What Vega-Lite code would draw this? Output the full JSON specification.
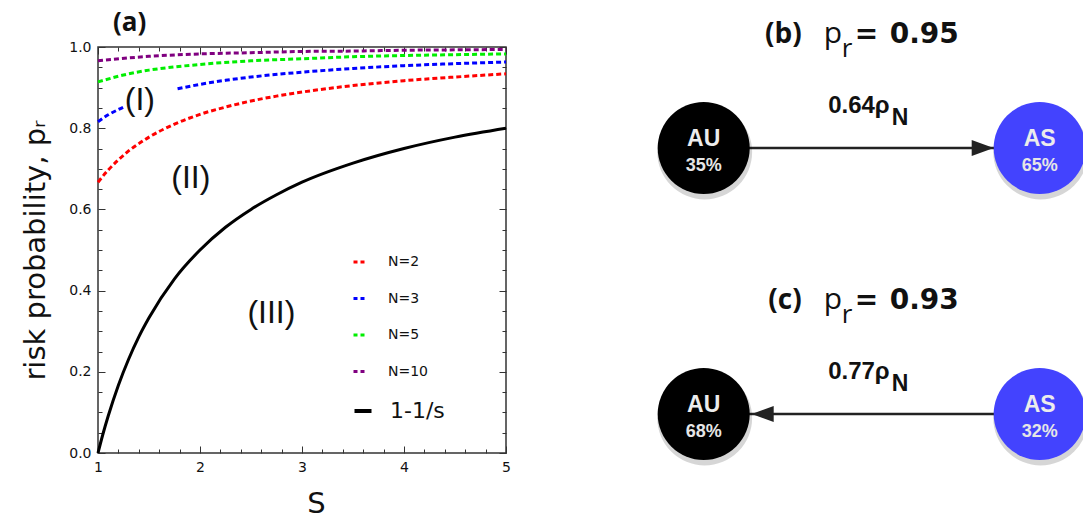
{
  "$schema": "https://vega.github.io/schema/vega-lite/v6.json",
  "padding": {"left": 20, "top": 9, "right": 0, "bottom": 0},
  "background": "white",
  "spacing": 0,
  "config": {
    "view": {"stroke": "#333", "strokeWidth": 1.5},
    "axis": {"domain": false, "grid": false, "tickColor": "#333", "tickWidth": 1, "labelFont": "DejaVu Sans", "labelFontSize": 14, "labelColor": "#111", "titleFont": "DejaVu Sans", "titleFontSize": 29, "titleFontWeight": "normal", "titleColor": "#111", "labelOverlap": false, "labelBound": false, "labelFlush": false}
  },
  "hconcat": [
    {
      "width": 408,
      "height": 406,
      "title": {"text": "(a)", "anchor": "start", "frame": "group", "font": "Open Sans", "fontSize": 26, "fontWeight": "bold", "color": "#111", "dx": 15, "offset": 4},
      "resolve": {"scale": {"color": "independent"}, "legend": {"color": "independent"}, "axis": {"x": "independent", "y": "independent"}},
      "layer": [
        {
          "data": {"values": [
            {"series": "N=2", "seg": "a", "s": 1, "p": 0.667},
            {"series": "N=2", "seg": "a", "s": 1.1, "p": 0.697},
            {"series": "N=2", "seg": "a", "s": 1.2, "p": 0.722},
            {"series": "N=2", "seg": "a", "s": 1.3, "p": 0.744},
            {"series": "N=2", "seg": "a", "s": 1.4, "p": 0.762},
            {"series": "N=2", "seg": "a", "s": 1.5, "p": 0.778},
            {"series": "N=2", "seg": "a", "s": 1.75, "p": 0.81},
            {"series": "N=2", "seg": "a", "s": 2, "p": 0.834},
            {"series": "N=2", "seg": "a", "s": 2.25, "p": 0.852},
            {"series": "N=2", "seg": "a", "s": 2.5, "p": 0.867},
            {"series": "N=2", "seg": "a", "s": 2.75, "p": 0.879},
            {"series": "N=2", "seg": "a", "s": 3, "p": 0.889},
            {"series": "N=2", "seg": "a", "s": 3.5, "p": 0.905},
            {"series": "N=2", "seg": "a", "s": 4, "p": 0.917},
            {"series": "N=2", "seg": "a", "s": 4.5, "p": 0.926},
            {"series": "N=2", "seg": "a", "s": 5, "p": 0.934},
            {"series": "N=3", "seg": "a", "s": 1, "p": 0.816},
            {"series": "N=3", "seg": "a", "s": 1.1, "p": 0.833},
            {"series": "N=3", "seg": "a", "s": 1.2, "p": 0.846},
            {"series": "N=3", "seg": "a", "s": 1.25, "p": 0.852},
            {"series": "N=3", "seg": "b", "s": 1.78, "p": 0.897},
            {"series": "N=3", "seg": "b", "s": 2, "p": 0.908},
            {"series": "N=3", "seg": "b", "s": 2.25, "p": 0.918},
            {"series": "N=3", "seg": "b", "s": 2.5, "p": 0.926},
            {"series": "N=3", "seg": "b", "s": 3, "p": 0.938},
            {"series": "N=3", "seg": "b", "s": 3.5, "p": 0.947},
            {"series": "N=3", "seg": "b", "s": 4, "p": 0.954},
            {"series": "N=3", "seg": "b", "s": 4.5, "p": 0.959},
            {"series": "N=3", "seg": "b", "s": 5, "p": 0.963},
            {"series": "N=5", "seg": "a", "s": 1, "p": 0.914},
            {"series": "N=5", "seg": "a", "s": 1.25, "p": 0.931},
            {"series": "N=5", "seg": "a", "s": 1.5, "p": 0.943},
            {"series": "N=5", "seg": "a", "s": 1.75, "p": 0.951},
            {"series": "N=5", "seg": "a", "s": 2, "p": 0.957},
            {"series": "N=5", "seg": "a", "s": 2.5, "p": 0.966},
            {"series": "N=5", "seg": "a", "s": 3, "p": 0.971},
            {"series": "N=5", "seg": "a", "s": 3.5, "p": 0.976},
            {"series": "N=5", "seg": "a", "s": 4, "p": 0.979},
            {"series": "N=5", "seg": "a", "s": 4.5, "p": 0.981},
            {"series": "N=5", "seg": "a", "s": 5, "p": 0.983},
            {"series": "N=10", "seg": "a", "s": 1, "p": 0.966},
            {"series": "N=10", "seg": "a", "s": 1.5, "p": 0.977},
            {"series": "N=10", "seg": "a", "s": 2, "p": 0.983},
            {"series": "N=10", "seg": "a", "s": 2.5, "p": 0.986},
            {"series": "N=10", "seg": "a", "s": 3, "p": 0.989},
            {"series": "N=10", "seg": "a", "s": 3.5, "p": 0.99},
            {"series": "N=10", "seg": "a", "s": 4, "p": 0.992},
            {"series": "N=10", "seg": "a", "s": 4.5, "p": 0.993},
            {"series": "N=10", "seg": "a", "s": 5, "p": 0.994}
          ]},
          "mark": {"type": "line", "strokeWidth": 3, "strokeDash": [5, 3], "interpolate": "monotone"},
          "encoding": {
            "x": {"field": "s", "type": "quantitative", "scale": {"domain": [1, 5], "nice": false, "zero": false},
              "axis": {"orient": "bottom", "title": "S", "titlePadding": 12, "titleX": 218, "values": [1, 1.2, 1.4, 1.6, 1.8, 2, 2.2, 2.4, 2.6, 2.8, 3, 3.2, 3.4, 3.6, 3.8, 4, 4.2, 4.4, 4.6, 4.8, 5],
                "labelExpr": "datum.value % 1 === 0 ? format(datum.value, 'd') : ''", "labelPadding": 14,
                "tickSize": {"condition": {"test": "datum.value % 1 === 0", "value": -7}, "value": -4}}},
            "y": {"field": "p", "type": "quantitative", "scale": {"domain": [0, 1], "nice": false},
              "axis": {"orient": "left", "title": "risk probability,  pᵣ", "titlePadding": 18, "values": [0, 0.05, 0.1, 0.15, 0.2, 0.25, 0.3, 0.35, 0.4, 0.45, 0.5, 0.55, 0.6, 0.65, 0.7, 0.75, 0.8, 0.85, 0.9, 0.95, 1],
                "labelExpr": "abs(datum.value * 5 - round(datum.value * 5)) < 0.001 ? format(datum.value, '.1f') : ''", "labelPadding": 14,
                "tickSize": {"condition": {"test": "abs(datum.value * 5 - round(datum.value * 5)) < 0.001", "value": -7}, "value": -4}}},
            "color": {"field": "series", "type": "nominal", "scale": {"domain": ["N=2", "N=3", "N=5", "N=10"], "range": ["#ff0000", "#0000ff", "#00ee00", "#800080"]},
              "legend": {"title": null, "orient": "none", "legendX": 254, "legendY": 207.5, "padding": 0, "symbolType": "stroke", "symbolStrokeWidth": 3, "symbolDash": [4, 3], "symbolSize": 144, "labelFont": "DejaVu Sans", "labelFontSize": 14, "labelColor": "#111", "rowPadding": 21.5, "labelOffset": 21}},
            "detail": {"field": "seg", "type": "nominal"}
          }
        },
        {
          "data": {"values": [
            {"series": "1-1/s", "s": 1, "p": 0},
            {"series": "1-1/s", "s": 1.05, "p": 0.048},
            {"series": "1-1/s", "s": 1.1, "p": 0.091},
            {"series": "1-1/s", "s": 1.2, "p": 0.167},
            {"series": "1-1/s", "s": 1.3, "p": 0.231},
            {"series": "1-1/s", "s": 1.4, "p": 0.286},
            {"series": "1-1/s", "s": 1.5, "p": 0.333},
            {"series": "1-1/s", "s": 1.75, "p": 0.429},
            {"series": "1-1/s", "s": 2, "p": 0.5},
            {"series": "1-1/s", "s": 2.25, "p": 0.556},
            {"series": "1-1/s", "s": 2.5, "p": 0.6},
            {"series": "1-1/s", "s": 2.75, "p": 0.636},
            {"series": "1-1/s", "s": 3, "p": 0.667},
            {"series": "1-1/s", "s": 3.5, "p": 0.714},
            {"series": "1-1/s", "s": 4, "p": 0.75},
            {"series": "1-1/s", "s": 4.5, "p": 0.778},
            {"series": "1-1/s", "s": 5, "p": 0.8}
          ]},
          "mark": {"type": "line", "strokeWidth": 3, "interpolate": "monotone"},
          "encoding": {
            "x": {"field": "s", "type": "quantitative", "scale": {"domain": [1, 5], "nice": false, "zero": false},
              "axis": {"orient": "top", "title": null, "labels": false, "values": [1, 1.2, 1.4, 1.6, 1.8, 2, 2.2, 2.4, 2.6, 2.8, 3, 3.2, 3.4, 3.6, 3.8, 4, 4.2, 4.4, 4.6, 4.8, 5],
                "tickSize": {"condition": {"test": "datum.value % 1 === 0", "value": -7}, "value": -4}}},
            "y": {"field": "p", "type": "quantitative", "scale": {"domain": [0, 1], "nice": false},
              "axis": {"orient": "right", "title": null, "labels": false, "values": [0, 0.05, 0.1, 0.15, 0.2, 0.25, 0.3, 0.35, 0.4, 0.45, 0.5, 0.55, 0.6, 0.65, 0.7, 0.75, 0.8, 0.85, 0.9, 0.95, 1],
                "tickSize": {"condition": {"test": "abs(datum.value * 5 - round(datum.value * 5)) < 0.001", "value": -7}, "value": -4}}},
            "color": {"field": "series", "type": "nominal", "scale": {"domain": ["1-1/s"], "range": ["#000000"]},
              "legend": {"title": null, "orient": "none", "legendX": 254, "legendY": 353, "padding": 0, "symbolType": "stroke", "symbolStrokeWidth": 4, "symbolSize": 289, "labelFont": "DejaVu Sans", "labelFontSize": 22, "labelColor": "#111", "labelOffset": 16}}
          }
        },
        {
          "data": {"values": [
            {"label": "(I)", "s": 1.41, "p": 0.869},
            {"label": "(II)", "s": 1.91, "p": 0.677},
            {"label": "(III)", "s": 2.7, "p": 0.345}
          ]},
          "mark": {"type": "text", "font": "Liberation Sans", "fontSize": 32, "color": "#111", "baseline": "middle", "align": "center"},
          "encoding": {
            "x": {"field": "s", "type": "quantitative", "axis": null},
            "y": {"field": "p", "type": "quantitative", "axis": null},
            "text": {"field": "label"}
          }
        }
      ]
    },
    {
      "width": 577,
      "height": 500,
      "view": {"stroke": null},
      "layer": [
        {
          "data": {"values": [
            {"panel": "b", "node": "AU", "share": "35%"},
            {"panel": "b", "node": "AS", "share": "65%"},
            {"panel": "c", "node": "AU", "share": "68%"},
            {"panel": "c", "node": "AS", "share": "32%"}
          ]},
          "layer": [
            {
              "mark": {"type": "line", "color": "#222", "strokeWidth": 2.6},
              "encoding": {"detail": {"field": "panel", "type": "nominal"}}
            },
            {
              "mark": {"type": "circle", "size": 9000, "color": "#000", "opacity": 0.16, "yOffset": 4, "xOffset": 1}
            },
            {
              "mark": {"type": "circle", "size": 8464, "opacity": 1},
              "encoding": {"color": {"field": "node", "type": "nominal", "scale": {"domain": ["AU", "AS"], "range": ["#000000", "#4343fe"]}, "legend": null}}
            },
            {
              "mark": {"type": "text", "font": "Liberation Sans", "fontWeight": "bold", "fontSize": 23, "color": "#ececec", "baseline": "alphabetic", "dy": -2},
              "encoding": {"text": {"field": "node"}}
            },
            {
              "mark": {"type": "text", "font": "Liberation Sans", "fontWeight": "bold", "fontSize": 18, "color": "#e6e6e6", "baseline": "alphabetic", "dy": 23},
              "encoding": {"text": {"field": "share"}}
            }
          ],
          "encoding": {
            "x": {"field": "node", "type": "nominal", "scale": {"type": "point", "domain": ["AU", "mid", "AS"], "range": [190.7, 526.7], "padding": 0}, "axis": null},
            "y": {"field": "panel", "type": "nominal", "scale": {"type": "point", "domain": ["b", "c"], "range": [101, 367], "padding": 0}, "axis": null}
          }
        },
        {
          "data": {"values": [
            {"panel": "b", "from": "AU", "to": "AS", "tag": "(b)", "pr": "0.95", "rate": "0.64ρ"},
            {"panel": "c", "from": "AS", "to": "AU", "tag": "(c)", "pr": "0.93", "rate": "0.77ρ"}
          ]},
          "layer": [
            {
              "transform": [{"filter": "datum.panel === 'b'"}],
              "mark": {"type": "point", "shape": "M-1,-0.73L1,0L-1,0.73Z", "size": 484, "filled": true, "opacity": 1, "color": "#222", "xOffset": -57},
              "encoding": {"x": {"field": "to", "type": "nominal"}}
            },
            {
              "transform": [{"filter": "datum.panel === 'c'"}],
              "mark": {"type": "point", "shape": "M1,-0.73L-1,0L1,0.73Z", "size": 484, "filled": true, "opacity": 1, "color": "#222", "xOffset": 59},
              "encoding": {"x": {"field": "to", "type": "nominal"}}
            },
            {
              "mark": {"type": "text", "font": "Liberation Sans", "fontWeight": "bold", "fontSize": 24, "color": "#111", "align": "right", "baseline": "alphabetic", "dx": 18, "dy": -35},
              "encoding": {"x": {"datum": "mid", "type": "nominal"}, "text": {"field": "rate"}}
            },
            {
              "mark": {"type": "text", "font": "Liberation Sans", "fontWeight": "bold", "fontSize": 23, "color": "#111", "align": "left", "baseline": "alphabetic", "dx": 20, "dy": -23, "text": "N"},
              "encoding": {"x": {"datum": "mid", "type": "nominal"}}
            },
            {
              "mark": {"type": "text", "font": "Open Sans", "fontWeight": "bold", "fontSize": 28, "color": "#111", "align": "right", "baseline": "alphabetic", "dx": -70, "dy": -105},
              "encoding": {"x": {"datum": "mid", "type": "nominal"}, "text": {"field": "tag"}}
            },
            {
              "mark": {"type": "text", "font": "Open Sans", "fontSize": 30, "color": "#111", "align": "left", "baseline": "alphabetic", "dx": -48, "dy": -105, "text": "p"},
              "encoding": {"x": {"datum": "mid", "type": "nominal"}}
            },
            {
              "mark": {"type": "text", "font": "Open Sans", "fontSize": 26, "color": "#111", "align": "left", "baseline": "alphabetic", "dx": -30, "dy": -91, "text": "r"},
              "encoding": {"x": {"datum": "mid", "type": "nominal"}}
            },
            {
              "mark": {"type": "text", "font": "DejaVu Sans", "fontWeight": "bold", "fontSize": 28, "color": "#111", "align": "left", "baseline": "alphabetic", "dx": -17, "dy": -105, "text": "="},
              "encoding": {"x": {"datum": "mid", "type": "nominal"}}
            },
            {
              "mark": {"type": "text", "font": "DejaVu Sans", "fontWeight": "bold", "fontSize": 28, "color": "#111", "align": "left", "baseline": "alphabetic", "dx": 18, "dy": -105},
              "encoding": {"x": {"datum": "mid", "type": "nominal"}, "text": {"field": "pr"}}
            }
          ],
          "encoding": {
            "y": {"field": "panel", "type": "nominal"}
          }
        }
      ],
      "resolve": {"scale": {"x": "shared", "y": "shared"}}
    }
  ]
}
